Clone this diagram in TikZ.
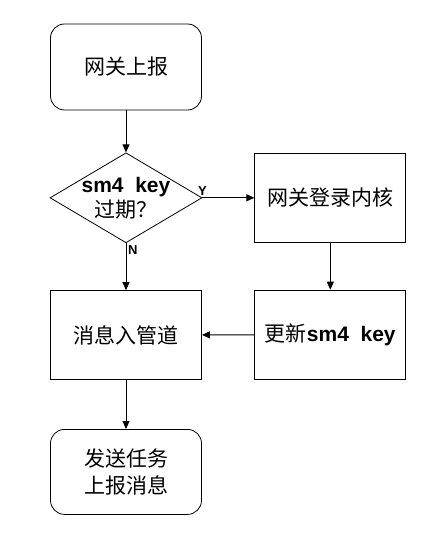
\documentclass[tikz,border=0pt]{standalone}
\usepackage{fontspec}
\setmainfont{Liberation Sans}
\newfontfamily\cjk{Noto Sans CJK SC}
\usetikzlibrary{shapes.geometric,arrows.meta,positioning}
\tikzset{main node/.style={rectangle,draw,minimum width=151pt,minimum height=89pt,inner sep=0pt,align=center,line width=0.8pt,font=\fontsize{21}{27}\selectfont\cjk},
         end node/.style={main node,minimum height=86pt,rounded corners=14pt},
         decision/.style={diamond,draw,minimum width=152pt,minimum height=90pt,inner sep=0pt,line width=0.8pt},
         decision text/.style={rectangle,draw=none,align=center,font=\fontsize{21}{25}\selectfont\cjk},
         edge label/.style={rectangle,draw=none,fill=none,inner sep=1.5pt,font=\fontsize{13}{13}\selectfont\rmfamily\bfseries}
}
\newcommand{\bkey}{{\rmfamily\bfseries sm4~~key}}

\begin{document}
\begin{tikzpicture}[->,>={Triangle[length=8pt,width=7pt]},line width=1pt]
\useasboundingbox (0,0) rectangle (445pt,-537pt);
\node[end node] (0) at (126pt,-67pt) {网关上报};
\node[decision, below=42pt of 0] (1) {};
\node[decision text] (1t) at (1) {\bkey\\过期？};
\node[main node, right=52pt of 1] (2) {网关登录内核};
\node[main node, below=47pt of 1] (3) {消息入管道};
\node[main node, below=47pt of 2] (4) {更新\bkey};
\node[end node, minimum height=85pt, below=49pt of 3] (5) {发送任务\\上报消息};
\draw (0) -- (1);
\draw (1.east) -- node[edge label, pos=0, above] {Y} (2);
\draw (1.south) -- node[edge label, pos=0, below right] {N} (3);
\draw (2) -- (4);
\draw (4) -- (3);
\draw (3) -- (5);
\end{tikzpicture}
\end{document}
